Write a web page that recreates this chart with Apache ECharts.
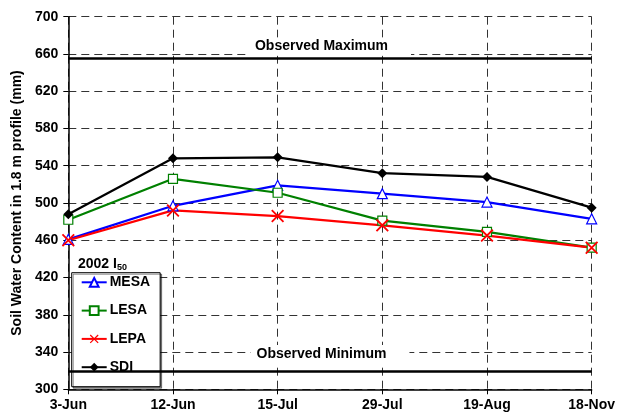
<!DOCTYPE html>
<html><head><meta charset="utf-8">
<script src="https://cdn.jsdelivr.net/npm/echarts@6/dist/echarts.min.js"></script>
<style>html,body{margin:0;padding:0;background:#fff}#c{width:618px;height:419px}</style>
</head><body><div id="c"></div>
<script>
const categories = ['3-Jun', '12-Jun', '15-Jul', '29-Jul', '19-Aug', '18-Nov'];
const mesa = [461, 497, 519, 510, 501, 483];
const lesa = [482, 526, 511, 481, 469, 452];
const lepa = [460, 492, 486, 476, 465, 452];
const sdi = [488, 548, 549, 532, 528, 495];
const observedMax = 655;
const observedMin = 319;
const yMin = 300, yMax = 700, yStep = 40;
const yName = 'Soil Water Content in 1.8 m profile (mm)';

const FONT = '"Liberation Sans", Arial, sans-serif';
const xPath = 'path://M0,1L1,0L10,9L9,10Z M9,0L10,1L1,10L0,9Z';
const chart = echarts.init(document.getElementById('c'), null, {renderer: 'canvas'});
const gridDash = {color: '#333', width: 1, type: [8, 5]};
function mk(name, data, color, symbol, size, empty) {
  return {
    name, type: 'line', data, symbol, symbolSize: size, showAllSymbol: true,
    lineStyle: {color, width: 2.25},
    itemStyle: empty ? {color: '#fff', borderColor: color, borderWidth: 1.2} : {color, borderColor: color, borderWidth: 0},
    emphasis: {disabled: true}, z: 3
  };
}
const series = [
  mk('MESA', mesa, '#0000ff', 'triangle', 10, true),
  mk('LESA', lesa, '#008000', 'rect', 9, true),
  mk('LEPA', lepa, '#ff0000', xPath, 13, false),
  mk('SDI', sdi, '#000000', 'diamond', 10, false)
];
const lbl = (d) => ({
  show: true, position: 'insideMiddleTop', distance: d, formatter: function (p) { return p.name; },
  color: '#000', fontFamily: FONT, fontWeight: 'bold', fontSize: 14,
  backgroundColor: '#fff', padding: [2, 23, 2, 6]
});
series.push({
  name: 'obs', type: 'line', data: [], silent: true,
  markLine: {
    silent: true, symbol: ['none', 'none'], animation: false,
    lineStyle: {color: '#000', width: 2.5, type: 'solid'},
    data: [
      {name: 'Observed Maximum', yAxis: observedMax, label: lbl(3)},
      {name: 'Observed Minimum', yAxis: observedMin, label: lbl(8.5)}
    ]
  }
});
chart.setOption({
  animation: false,
  backgroundColor: '#fff',
  textStyle: {fontFamily: FONT},
  grid: {left: 68.3, right: 25.3, top: 16.7, bottom: 29.7, containLabel: false},
  title: {
    text: '2002 I{s|50}', left: 73, top: 252,
    textStyle: {fontFamily: FONT, fontWeight: 'bold', fontSize: 14, color: '#000',
      rich: {s: {fontFamily: FONT, fontWeight: 'bold', fontSize: 9, color: '#000', verticalAlign: 'bottom', padding: [6, 0, 0, 0]}}}
  },
  legend: {
    data: ['MESA', 'LESA', 'LEPA', 'SDI'], orient: 'vertical', left: 71.7, top: 272.7,
    itemWidth: 25, itemHeight: 11, itemGap: 14.3,
    padding: [2.6, 10, 12.5, 9],
    backgroundColor: '#fff', borderColor: '#000', borderWidth: 1,
    shadowColor: 'rgba(0,0,0,0.45)', shadowBlur: 0, shadowOffsetX: 1.5, shadowOffsetY: 1.5,
    textStyle: {fontFamily: FONT, fontWeight: 'bold', fontSize: 14, color: '#000', padding: [0, 0, 0, -2]},
    selectedMode: false
  },
  xAxis: {
    type: 'category', data: categories, boundaryGap: false,
    axisLine: {lineStyle: {color: '#000', width: 1.5}},
    axisTick: {show: true, length: 5, lineStyle: {color: '#000'}, alignWithLabel: true},
    axisLabel: {color: '#000', fontFamily: FONT, fontWeight: 'bold', fontSize: 14, margin: 9},
    splitLine: {show: true, lineStyle: gridDash}
  },
  yAxis: {
    type: 'value', min: yMin, max: yMax, interval: yStep,
    name: yName, nameLocation: 'middle', nameGap: 40,
    nameTextStyle: {color: '#000', fontFamily: FONT, fontWeight: 'bold', fontSize: 14},
    axisLine: {show: true, lineStyle: {color: '#000', width: 1.5}},
    axisTick: {show: true, length: 5, lineStyle: {color: '#000'}},
    axisLabel: {color: '#000', fontFamily: FONT, fontWeight: 'bold', fontSize: 14, margin: 10},
    splitLine: {show: true, lineStyle: gridDash}
  },
  series
});
</script></body></html>
